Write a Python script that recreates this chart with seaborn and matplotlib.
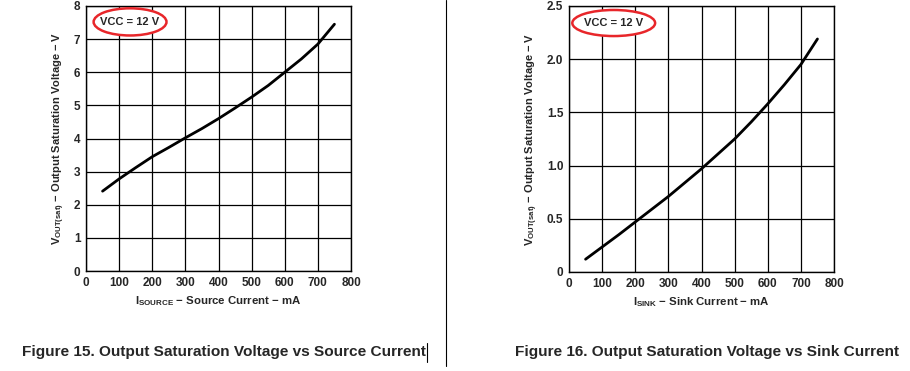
import numpy as np
import pandas as pd
import matplotlib
matplotlib.use("Agg")
import matplotlib.pyplot as plt
from matplotlib.patches import Ellipse
from matplotlib.lines import Line2D
import seaborn as sns

# ---- data ----
source_current = [50, 100, 150, 200, 250, 300, 350, 400, 450, 500, 550, 600, 650, 700, 750]
source_vsat = [2.41, 2.78, 3.12, 3.45, 3.73, 4.02, 4.30, 4.60, 4.92, 5.25, 5.60, 6.00, 6.40, 6.85, 7.45]
sink_current = [50, 100, 150, 200, 250, 300, 350, 400, 450, 500, 550, 600, 650, 700, 750]
sink_vsat = [0.12, 0.235, 0.35, 0.47, 0.59, 0.71, 0.84, 0.97, 1.11, 1.25, 1.41, 1.58, 1.76, 1.95, 2.19]
x_ticks = [0, 100, 200, 300, 400, 500, 600, 700, 800]
left_y_ticks = [0, 1, 2, 3, 4, 5, 6, 7, 8]
left_y_labels = ["0", "1", "2", "3", "4", "5", "6", "7", "8"]
right_y_ticks = [0, 0.5, 1.0, 1.5, 2.0, 2.5]
right_y_labels = ["0", "0.5", "1.0", "1.5", "2.0", "2.5"]
annotation = "VCC = 12 V"
caption_left = "Figure 15. Output Saturation Voltage vs Source Current"
caption_right = "Figure 16. Output Saturation Voltage vs Sink Current"

sns.set_style("white")
plt.rcParams['font.family'] = ['Liberation Sans', 'DejaVu Sans']
plt.rcParams['font.weight'] = 'bold'
plt.rcParams['mathtext.fontset'] = 'custom'
plt.rcParams['mathtext.rm'] = 'Liberation Sans:bold'
plt.rcParams['mathtext.bf'] = 'Liberation Sans:bold'
plt.rcParams['mathtext.it'] = 'Liberation Sans:bold'

df_src = pd.DataFrame({"I": source_current, "V": source_vsat})
df_snk = pd.DataFrame({"I": sink_current, "V": sink_vsat})

fig = plt.figure(figsize=(9.10, 3.71), dpi=100)
ax1 = fig.add_axes([86 / 910, 1 - 271 / 371, 265 / 910, 265 / 371])
ax2 = fig.add_axes([569 / 910, 1 - 272 / 371, 265 / 910, 266 / 371])


def style_axis(ax, yticks, ylabels, ymax, xlabel):
    ax.set_xlim(0, 800)
    ax.set_ylim(0, ymax)
    ax.set_xticks(x_ticks)
    ax.set_xticklabels([str(t) for t in x_ticks], fontsize=8.5, fontweight='bold')
    ax.set_yticks(yticks)
    ax.set_yticklabels(ylabels, fontsize=8.5, fontweight='bold')
    ax.grid(True, color='black', linewidth=0.9)
    ax.set_axisbelow(True)
    for s in ax.spines.values():
        s.set_color('black')
        s.set_linewidth(1.0)
        s.set_visible(True)
    ax.tick_params(length=0, pad=4)
    ax.set_xlabel(xlabel, fontsize=8.2, fontweight='bold', labelpad=4)
    ax.set_ylabel(r"V$_{\mathrm{OUT(sat)}}$ − Output Saturation Voltage − V",
                  fontsize=8, fontweight='bold', labelpad=5)


sns.lineplot(data=df_src, x="I", y="V", ax=ax1, color='black', linewidth=2.0)
sns.lineplot(data=df_snk, x="I", y="V", ax=ax2, color='black', linewidth=2.0)

style_axis(ax1, left_y_ticks, left_y_labels, 8, r"I$_{\mathrm{SOURCE}}$ − Source Current − mA")
style_axis(ax2, right_y_ticks, right_y_labels, 2.5, r"I$_{\mathrm{SINK}}$ − Sink Current − mA")

# annotations with red ellipses
for ax, cx, cy, w, h in [(ax1, 133, 7.52, 220, 0.82), (ax2, 135, 2.34, 250, 0.245)]:
    e = Ellipse((cx, cy), w, h, facecolor='white', edgecolor='#e8262a', linewidth=1.8, zorder=5)
    ax.add_patch(e)
    ax.text(cx, cy, annotation, ha='center', va='center', fontsize=8,
            fontweight='bold', zorder=6)

# separator line and captions
fig.add_artist(Line2D([445.5 / 910, 445.5 / 910], [1 - 366 / 371, 1.0], color='black', linewidth=0.8))
fig.add_artist(Line2D([427 / 910, 427 / 910], [1 - 362 / 371, 1 - 343 / 371], color='black', linewidth=0.8))
fig.text(22 / 910, 1 - 352 / 371, caption_left, ha='left', va='center', fontsize=11.1, fontweight='bold')
fig.text(515 / 910, 1 - 352 / 371, caption_right, ha='left', va='center', fontsize=11.1, fontweight='bold')

fig.savefig("out.png", dpi=100)
